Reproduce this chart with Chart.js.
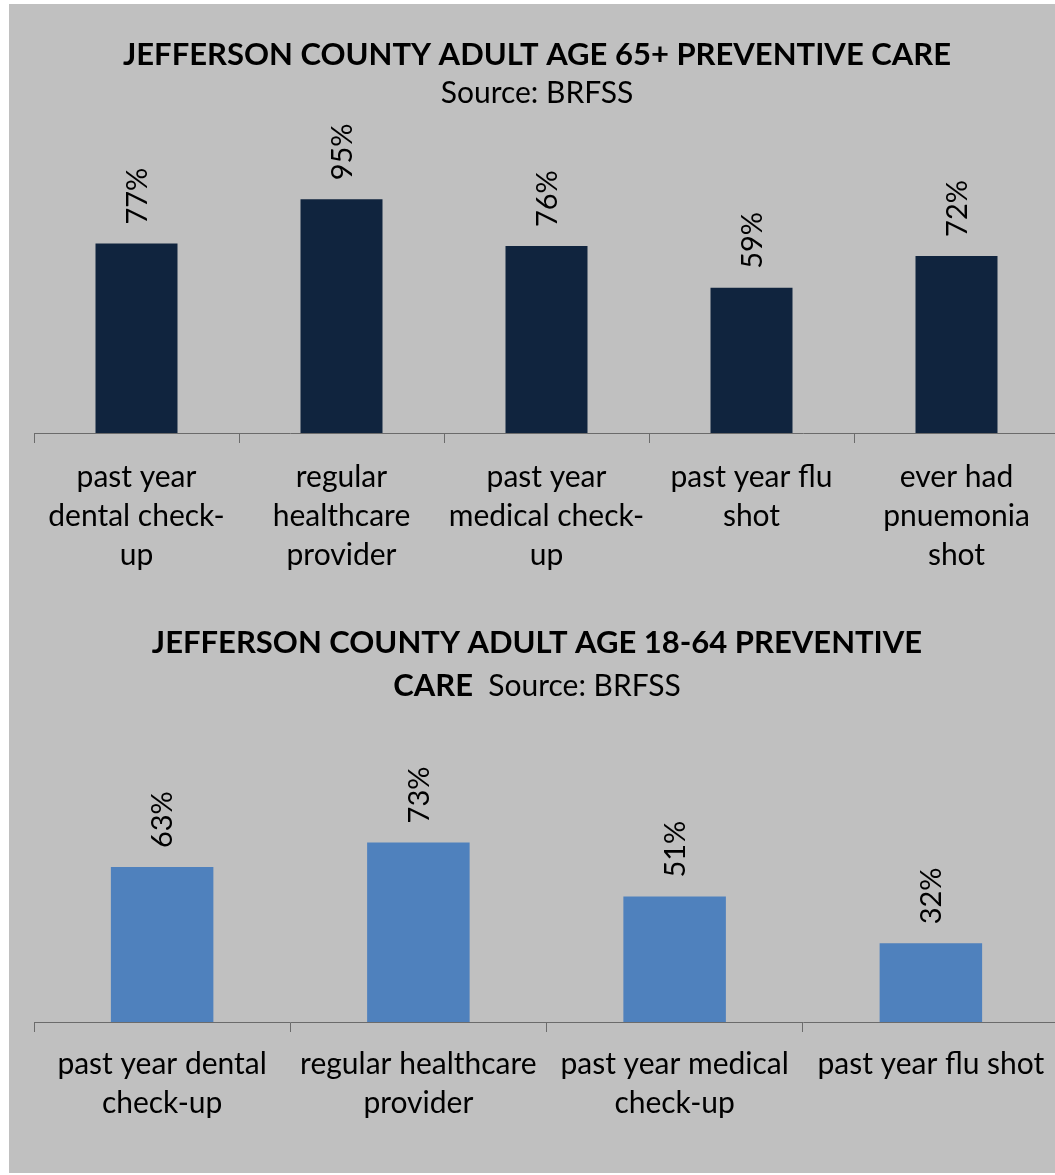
<!DOCTYPE html>
<html>
<head>
<meta charset="utf-8">
<script src="https://cdn.jsdelivr.net/npm/chart.js@4.4.1/dist/chart.umd.min.js"></script>
<style>
  body { margin: 0; background: #ffffff; overflow: hidden; }
  #bg { position: absolute; left: 9px; top: 4px; width: 1046px; height: 1169px; background: #c0c0c0; }
  .box { position: absolute; left: 0; width: 1059px; }
  #box1 { top: 0; height: 600px; }
  #box2 { top: 600px; height: 575px; }
</style>
</head>
<body>
<div id="bg"></div>
<div class="box" id="box1"><canvas id="seniorChart"></canvas></div>
<div class="box" id="box2"><canvas id="adultChart"></canvas></div>
<script>
// 65+ chart data
let labels1 = [
    ['past year', 'dental check-', 'up'],
    ['regular', 'healthcare', 'provider'],
    ['past year', 'medical check-', 'up'],
    ['past year flu', 'shot'],
    ['ever had', 'pnuemonia', 'shot']
];
let data1 = [77, 95, 76, 59, 72];

// 18-64 chart data
let labels2 = [
    ['past year dental', 'check-up'],
    ['regular healthcare', 'provider'],
    ['past year medical', 'check-up'],
    ['past year flu shot']
];
let data2 = [63, 73, 51, 32];

let title1 = [
    [{ text: 'JEFFERSON COUNTY ADULT AGE 65+ PREVENTIVE CARE', bold: true }],
    [{ text: 'Source: BRFSS', bold: false }]
];
let title2 = [
    [{ text: 'JEFFERSON COUNTY ADULT AGE 18-64 PREVENTIVE', bold: true }],
    [{ text: 'CARE', bold: true }, { text: '  Source: BRFSS', bold: false }]
];

const FONT = 'Lato, "Open Sans", sans-serif';
Chart.defaults.font.family = FONT;
Chart.defaults.color = '#000000';

function segFont(s) {
    return s.bold ? 'bold 31px ' + FONT : '30px ' + FONT;
}

// draws the title lines (second chart mixes bold and regular on one line)
const titlePlugin = {
    id: 'titleLines',
    beforeDraw(chart, args, opts) {
        const ctx = chart.ctx;
        ctx.save();
        ctx.fillStyle = '#000000';
        ctx.textBaseline = 'middle';
        ctx.textAlign = 'left';
        opts.lines.forEach((segs, i) => {
            let total = 0;
            segs.forEach(s => {
                ctx.font = segFont(s);
                s.w = ctx.measureText(s.text).width;
                total += s.w;
            });
            let x = opts.cx - total / 2;
            segs.forEach(s => {
                ctx.font = segFont(s);
                ctx.fillText(s.text, x, opts.y[i]);
                x += s.w;
            });
        });
        ctx.restore();
    }
};

// rotated value labels above bars
const valuePlugin = {
    id: 'valueLabels',
    afterDatasetsDraw(chart) {
        const ctx = chart.ctx;
        const values = chart.data.datasets[0].data;
        ctx.save();
        ctx.fillStyle = '#000000';
        ctx.font = '29px ' + FONT;
        ctx.textAlign = 'left';
        ctx.textBaseline = 'middle';
        chart.getDatasetMeta(0).data.forEach((bar, i) => {
            ctx.save();
            ctx.translate(bar.x + 1, bar.y - 19);
            ctx.rotate(-Math.PI / 2);
            ctx.fillText(values[i] + '%', 0, 0);
            ctx.restore();
        });
        ctx.restore();
    }
};

function makeChart(id, labels, data, color, titleLines, titleY, padTop, axisHeight, tickPad) {
    return new Chart(document.getElementById(id).getContext('2d'), {
        type: 'bar',
        data: {
            labels: labels,
            datasets: [{
                data: data,
                backgroundColor: color,
                categoryPercentage: 1,
                barPercentage: 0.4
            }]
        },
        options: {
            responsive: true,
            maintainAspectRatio: false,
            animation: false,
            layout: { padding: { left: 34, right: 0, top: padTop, bottom: 0 } },
            plugins: {
                legend: { display: false },
                tooltip: { enabled: false },
                titleLines: { lines: titleLines, y: titleY, cx: 537 }
            },
            scales: {
                x: {
                    afterFit(scale) { scale.height = axisHeight; },
                    grid: {
                        display: true,
                        drawOnChartArea: false,
                        offset: true,
                        tickLength: 10,
                        color: '#6b6b6b'
                    },
                    border: { display: true, color: '#6b6b6b' },
                    ticks: {
                        autoSkip: false,
                        maxRotation: 0,
                        minRotation: 0,
                        padding: tickPad,
                        color: '#000000',
                        font: { size: 30, lineHeight: 1.3 }
                    }
                },
                y: {
                    display: false,
                    min: 0,
                    max: 100
                }
            }
        },
        plugins: [titlePlugin, valuePlugin]
    });
}

let chart1 = makeChart('seniorChart', labels1, data1, '#10243e', title1, [55, 93], 187, 167, 15);
let chart2 = makeChart('adultChart', labels2, data2, '#4f81bd', title2, [43, 86], 176, 153, 13);
</script>
</body>
</html>
